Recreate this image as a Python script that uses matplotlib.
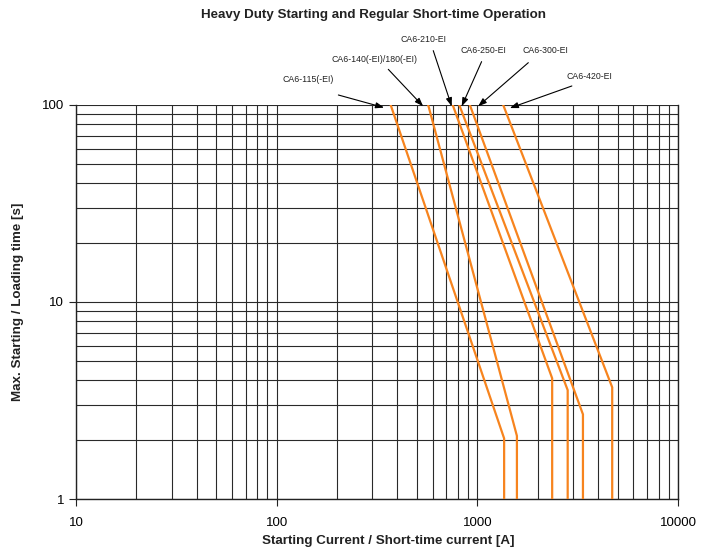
import matplotlib
matplotlib.use("Agg")
import matplotlib.pyplot as plt
from matplotlib.ticker import LogLocator, NullFormatter, FixedLocator, FixedFormatter

plt.rcParams['font.family'] = ['Liberation Sans', 'DejaVu Sans']

# Curves: straight (log-log) from top to knee, then vertical down to 1 s
names = ["CA6-115(-EI)", "CA6-140(-EI)/180(-EI)", "CA6-210-EI", "CA6-250-EI", "CA6-300-EI", "CA6-420-EI"]
top_current = [370, 569, 754, 813, 918, 1346]      # current at 100 s
knee_current = [1360, 1575, 2360, 2820, 3360, 4700]
knee_time = [2.03, 2.09, 4.1, 3.57, 2.69, 3.69]
top_time = 100
bottom_time = 1

# annotation positions (data coords)
label_x = [143.5, 309, 537, 1069, 2173, 3614]
label_y = [135.5, 171, 214, 189, 189, 140]
tail_x = [203, 360, 603, 1050, 1795, 2958]
tail_y = [112.4, 151.7, 188.8, 166, 164, 124.9]
tip_x = [343, 537, 745, 836, 1009, 1452]
tip_y = [97, 98.5, 98.5, 98.5, 98.5, 96.5]

xticks = [10, 100, 1000, 10000]
xticklabels = ["10", "100", "1000", "10000"]
yticks = [1, 10, 100]
yticklabels = ["1", "10", "100"]

orange = "#F7841E"
gridc = "#2a2a2a"

fig = plt.figure(figsize=(7.09, 5.56), dpi=100)
ax = fig.add_axes([76/709, 1-499/556, (678-76)/709, (499-105)/556])
ax.set_xscale("log")
ax.set_yscale("log")
ax.set_xlim(10, 10000)
ax.set_ylim(1, 100)

for tc, kc, kt in zip(top_current, knee_current, knee_time):
    ax.plot([tc, kc, kc], [top_time, kt, bottom_time], color=orange, lw=1.6, solid_joinstyle='miter', zorder=3)

ax.xaxis.set_major_locator(FixedLocator(xticks))
ax.xaxis.set_major_formatter(FixedFormatter(xticklabels))
ax.yaxis.set_major_locator(FixedLocator(yticks))
ax.yaxis.set_major_formatter(FixedFormatter(yticklabels))
ax.xaxis.set_minor_locator(LogLocator(base=10, subs=range(2, 10)))
ax.yaxis.set_minor_locator(LogLocator(base=10, subs=range(2, 10)))
ax.xaxis.set_minor_formatter(NullFormatter())
ax.yaxis.set_minor_formatter(NullFormatter())
ax.tick_params(which='minor', length=0)
ax.tick_params(which='major', length=5, width=0.8, direction='out', labelsize=9.5, color='#222222')
ax.tick_params(axis='x', which='major', pad=8)
ax.grid(True, which='both', color=gridc, lw=0.8)
ax.set_axisbelow(True)
for s in ax.spines.values():
    s.set_color('#222222')
    s.set_linewidth(1.0)
ax.spines['top'].set_visible(False)

fig.text(374/709, 1-15/556, "Heavy Duty Starting and Regular Short-time Operation",
         fontsize=9.6, fontweight='bold', ha='center', va='center', color='#222222')
ax.set_xlabel("Starting Current / Short-time current [A]", fontsize=9.6, fontweight='bold', color='#222222')
ax.xaxis.set_label_coords((388-76)/602, -(541-499)/394)
ax.xaxis.label.set_va('center')
ax.set_ylabel("Max. Starting / Loading time [s]", fontsize=9.6, fontweight='bold', color='#222222')
ax.yaxis.set_label_coords(-(76-18)/602, 0.5)
ax.yaxis.label.set_va('center')

for n, lx, ly, txx, tyy, px, py in zip(names, label_x, label_y, tail_x, tail_y, tip_x, tip_y):
    ax.text(lx, ly, n, fontsize=6.3, ha='center', va='center', clip_on=False, color='#222222')
    ax.annotate('', xy=(px, py), xytext=(txx, tyy), annotation_clip=False,
                arrowprops=dict(arrowstyle='-|>,head_length=0.5,head_width=0.18', color='black', lw=0.8,
                                shrinkA=0, shrinkB=0))

fig.savefig("out.png", dpi=100)
